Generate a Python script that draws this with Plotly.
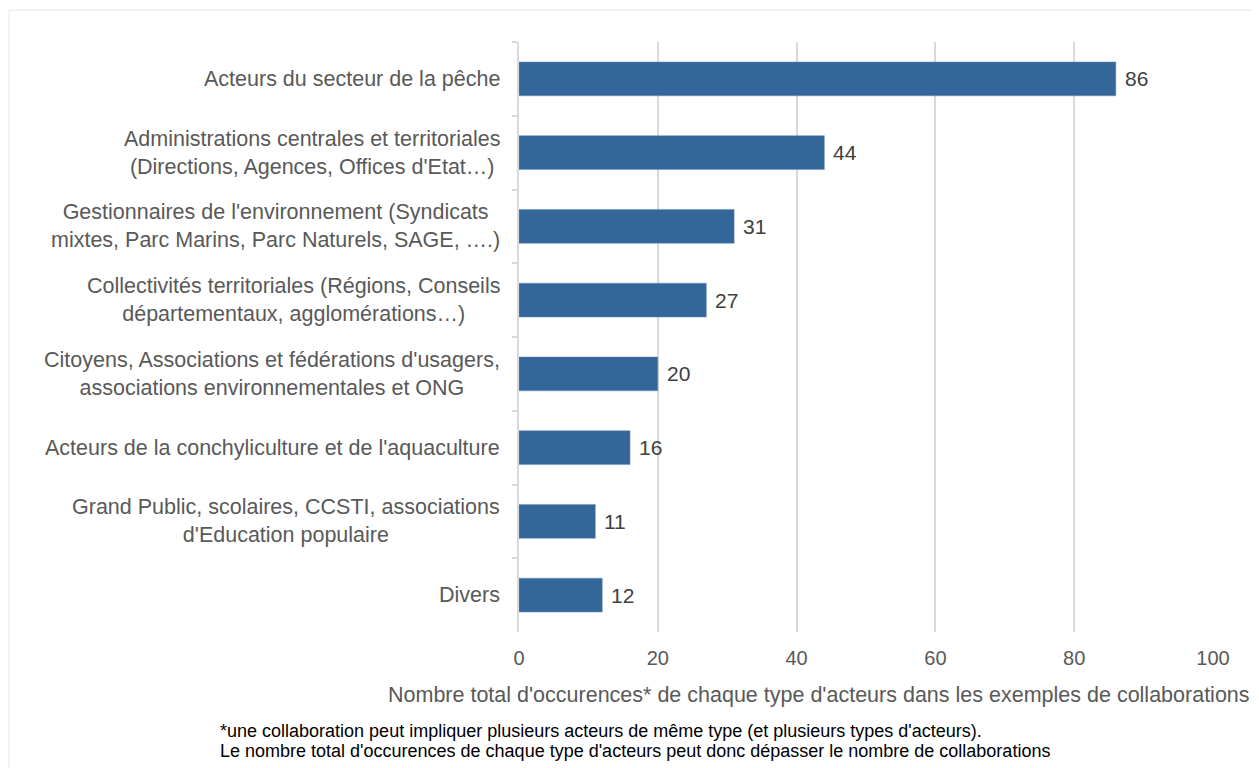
import plotly.graph_objects as go

categories = [
    "Acteurs du secteur de la pêche",
    "Administrations centrales et territoriales<br>(Directions, Agences, Offices d'Etat…)",
    "Gestionnaires de l'environnement (Syndicats<br>mixtes, Parc Marins, Parc Naturels, SAGE, ….)",
    "Collectivités territoriales (Régions, Conseils<br>départementaux, agglomérations…)",
    "Citoyens, Associations et fédérations d'usagers,<br>associations environnementales et ONG",
    "Acteurs de la conchyliculture et de l'aquaculture",
    "Grand Public, scolaires, CCSTI, associations<br>d'Education populaire",
    "Divers",
]
values = [86, 44, 31, 27, 20, 16, 11, 12]
x_ticks = [0, 20, 40, 60, 80, 100]
x_title = "Nombre total d'occurences* de chaque type d'acteurs dans les exemples de collaborations"
footnote_lines = [
    "*une collaboration peut impliquer plusieurs acteurs de même type (et plusieurs types d'acteurs).",
    "Le nombre total d'occurences de chaque type d'acteurs peut donc dépasser le nombre de collaborations",
]

OFF = 8  # page body margin
W, H = 1259 - OFF, 768 - OFF
L, T = 519 - OFF, 42 - OFF
PR, PB = 1213 - OFF, 632 - OFF
R, B = W - PR, H - PB
pw, ph = PR - L, PB - T
FONT = "Liberation Sans, Arial"


def px_x(x):
    return (x - OFF - L) / pw


def px_y(y):
    return (PB - (y - OFF)) / ph


fig = go.Figure()
fig.add_trace(go.Bar(
    y=categories, x=values, orientation="h",
    marker=dict(color="#336699", line=dict(color="#6f93bb", width=0.5)),
    width=0.46,
))

for c, v in zip(categories, values):
    fig.add_annotation(
        x=v, xref="x", y=c, yref="y", xanchor="left", yanchor="middle",
        xshift=7, text=str(v), showarrow=False,
        font=dict(family=FONT, size=21, color="#404040"),
    )
    fig.add_annotation(
        x=0, xref="paper", y=c, yref="y", xanchor="right", yanchor="middle",
        xshift=-17, text=c, showarrow=False, align="center",
        font=dict(family=FONT, size=21.5, color="#595959"),
    )

fig.add_annotation(
    x=px_x(819), xref="paper", y=px_y(695), yref="paper",
    xanchor="center", yanchor="middle", showarrow=False,
    text=x_title,
    font=dict(family=FONT, size=21.5, color="#595959"),
)
for line, yy in zip(footnote_lines, [731, 751]):
    fig.add_annotation(
        x=px_x(218), xref="paper", y=px_y(yy), yref="paper",
        xanchor="left", yanchor="middle", showarrow=False, align="left",
        text=line,
        font=dict(family=FONT, size=18, color="#000000"),
    )

fig.add_shape(type="rect", xref="paper", yref="paper",
              x0=px_x(9), x1=px_x(1275), y0=px_y(775), y1=px_y(10),
              line=dict(color="#e6e6e6", width=1), layer="below")

fig.update_layout(
    width=W, height=H,
    margin=dict(l=L, r=R, t=T, b=B),
    plot_bgcolor="white", paper_bgcolor="white",
    showlegend=False,
    xaxis=dict(range=[0, 100], tickvals=x_ticks, showgrid=True, gridcolor="#d9d9d9",
               gridwidth=1.5, zeroline=False, showline=False, ticklabelstandoff=12,
               tickfont=dict(family=FONT, size=20, color="#595959")),
    yaxis=dict(autorange="reversed", showticklabels=False, showline=True,
               linecolor="#d9d9d9", linewidth=1.5, ticks="outside", tickson="boundaries",
               ticklen=5, tickcolor="#d9d9d9", tickwidth=1.5, showgrid=False),
)

fig.write_html("out.html")
